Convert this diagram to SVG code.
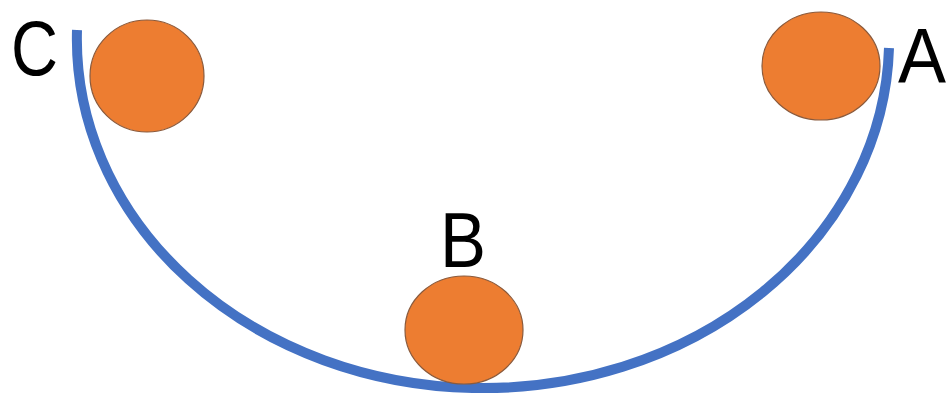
<svg xmlns="http://www.w3.org/2000/svg" width="949" height="396" viewBox="0 0 949 396">
<style>
.ball{fill:#ED7D31;stroke:#8a5a3c;stroke-width:1.2}
.lbl{font-family:"Liberation Sans",Arial,sans-serif;font-size:77px;fill:#000}
</style>
<rect width="949" height="396" fill="#fff"/>
<g id="connectors">
<path id="track" d="M 77 30 A 406 349 0 0 0 889 48" fill="none" stroke="#4472C4" stroke-width="10"/>
</g>
<g id="nodeC"><ellipse class="ball" cx="147" cy="76" rx="57" ry="56"/><text class="lbl" x="11" y="75" textLength="47" lengthAdjust="spacingAndGlyphs">C</text></g>
<g id="nodeA"><ellipse class="ball" cx="821" cy="66" rx="59" ry="54"/><text class="lbl" x="898" y="83" textLength="48" lengthAdjust="spacingAndGlyphs">A</text></g>
<g id="nodeB"><ellipse class="ball" cx="464" cy="330" rx="59" ry="54"/><text class="lbl" x="440" y="267" textLength="46" lengthAdjust="spacingAndGlyphs">B</text></g>
</svg>
